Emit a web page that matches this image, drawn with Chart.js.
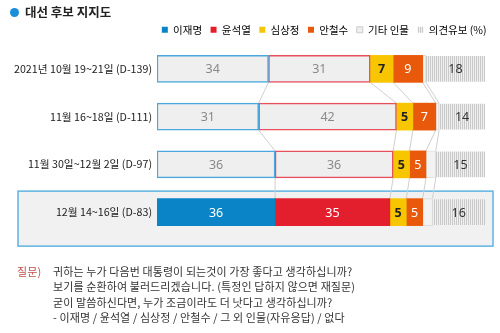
<!DOCTYPE html>
<html>
<head>
<meta charset="utf-8">
<script src="https://cdn.jsdelivr.net/npm/chart.js@4/dist/chart.umd.min.js"></script>
<style>
    body { margin: 0; background: #fff; font-family: "Noto Sans CJK KR", sans-serif; }
    #wrap { position: relative; width: 500px; height: 333px; }
    #chart { position: absolute; left: 0; top: 0; }
    #title { position: absolute; left: 10px; top: 2px; font-size: 12.5px; font-weight: bold; color: #222; }
    #title .dot { display: inline-block; width: 9px; height: 9px; border-radius: 50%; background: #1a8fd8; margin-right: 6px; vertical-align: 0px; }
    #question { position: absolute; left: 17px; top: 264px; font-size: 11px; line-height: 15.3px; color: #333; display: flex; letter-spacing: 0.1px; }
    #question .q { color: #c0504d; width: 36px; }
</style>
</head>
<body>
<div id="wrap">
    <canvas id="chart" width="500" height="333"></canvas>
    <div id="title"><span class="dot"></span>대선 후보 지지도</div>
    <div id="question">
        <div class="q">질문)</div>
        <div>
            귀하는 누가 다음번 대통령이 되는것이 가장 좋다고 생각하십니까?<br>
            보기를 순환하여 불러드리겠습니다. (특정인 답하지 않으면 재질문)<br>
            굳이 말씀하신다면, 누가 조금이라도 더 낫다고 생각하십니까?<br>
            - 이재명 / 윤석열 / 심상정 / 안철수 / 그 외 인물(자유응답) / 없다
        </div>
    </div>
</div>
<script>
const periods = [
    "2021년 10월 19~21일 (D-139)",
    "11월 16~18일 (D-111)",
    "11월 30일~12월 2일 (D-97)",
    "12월 14~16일 (D-83)"
];
const leeJaemyung = [34, 31, 36, 36];
const yoonSeokyeol = [31, 42, 36, 35];
const simSangjeung = [7, 5, 5, 5];
const ahnCheolsoo = [9, 7, 5, 5];
const others = [1, 1, 3, 3];
const undecided = [18, 14, 15, 16];

const BAR = 27;

// hatched fill for 의견유보
function hatch() {
    const c = document.createElement("canvas");
    c.width = 2; c.height = 2;
    const g = c.getContext("2d");
    g.fillStyle = "#f0f0f0"; g.fillRect(0, 0, 2, 2);
    g.fillStyle = "#c9c9c9"; g.fillRect(0, 0, 1, 2);
    return g.createPattern(c, "repeat");
}
const hatchFill = hatch();

const legendColors = ["#0a84c6", "#e31e2d", "#f7c600", "#e8590c", "#eeeeee", hatchFill];
const legendText = ["이재명", "윤석열", "심상정", "안철수", "기타 인물", "의견유보 (%)"];

// last row is highlighted, earlier rows are greyed out
const last = i => i === periods.length - 1;

// highlight box behind the latest row (drawn before the axis labels)
const highlight = {
    id: "highlight",
    beforeDraw(chart) {
        const { ctx, chartArea, scales: { y } } = chart;
        const yc = y.getPixelForValue(periods.length - 1);
        const w = chartArea.right + 8 - 18;
        ctx.save();
        ctx.fillStyle = "#f1f1f1";
        ctx.fillRect(18, yc - 21, w, 55);
        ctx.strokeStyle = "#5fb3e3";
        ctx.lineWidth = 1.5;
        ctx.strokeRect(18, yc - 21, w, 55);
        ctx.restore();
    },
    afterLayout(chart) {
        // push the legend a bit further right than the plot area
        chart.legend.left += 10;
        chart.legend.right += 10;
    }
};

// thin lines joining the same boundaries of neighbouring rows
const connectors = {
    id: "connectors",
    beforeDatasetsDraw(chart) {
        const { ctx, scales: { x, y } } = chart;
        const series = chart.data.datasets.map(d => d.data);
        ctx.save();
        ctx.strokeStyle = "#cfcfcf";
        ctx.lineWidth = 1;
        for (let r = 0; r < periods.length - 1; r++) {
            let a = 0, b = 0;
            for (let k = 0; k < series.length - 1; k++) {
                a += series[k][r];
                b += series[k][r + 1];
                ctx.beginPath();
                ctx.moveTo(x.getPixelForValue(a), y.getPixelForValue(r) + BAR / 2);
                ctx.lineTo(x.getPixelForValue(b), y.getPixelForValue(r + 1) - BAR / 2);
                ctx.stroke();
            }
        }
        ctx.restore();
    }
};

const valueLabels = {
    id: "valueLabels",
    afterDatasetsDraw(chart) {
        const ctx = chart.ctx;
        ctx.save();
        ctx.textAlign = "center";
        ctx.textBaseline = "middle";
        chart.data.datasets.forEach((ds, di) => {
            if (di === 4) return;
            chart.getDatasetMeta(di).data.forEach((bar, i) => {
                const c = bar.getCenterPoint();
                let color = "#fff";
                if (di < 2) color = last(i) ? "#fff" : "#8a8a8a";
                if (di === 2) color = "#222";
                if (di === 5) color = "#333";
                ctx.fillStyle = color;
                ctx.font = (di === 2 ? "bold " : "") + "12.5px 'Noto Sans', sans-serif";
                ctx.fillText(ds.data[i], c.x, c.y + 1);
            });
        });
        ctx.restore();
    }
};

new Chart(document.getElementById("chart"), {
    type: "bar",
    data: {
        labels: periods,
        datasets: [
            {
                label: "이재명",
                data: leeJaemyung,
                backgroundColor: periods.map((p, i) => last(i) ? "#0a84c6" : "#efefef"),
                borderColor: "#4aa8de",
                borderWidth: periods.map((p, i) => last(i) ? 0 : 1.5)
            },
            {
                label: "윤석열",
                data: yoonSeokyeol,
                backgroundColor: periods.map((p, i) => last(i) ? "#e31e2d" : "#efefef"),
                borderColor: "#e6505d",
                borderWidth: periods.map((p, i) => last(i) ? 0 : 1.5)
            },
            { label: "심상정", data: simSangjeung, backgroundColor: "#f7c600", borderWidth: 0 },
            { label: "안철수", data: ahnCheolsoo, backgroundColor: "#e8590c", borderWidth: 0 },
            { label: "기타 인물", data: others, backgroundColor: "#f2f2f2", borderColor: "#dcdcdc", borderWidth: 1 },
            { label: "의견유보", data: undecided, backgroundColor: hatchFill, borderWidth: 0, barThickness: 25 }
        ]
    },
    options: {
        indexAxis: "y",
        responsive: false,
        animation: false,
        barThickness: BAR,
        datasets: { bar: { borderSkipped: false } },
        layout: { padding: { top: 16, right: 15, bottom: 97, left: 0 } },
        scales: {
            x: { stacked: true, min: 0, max: 100, display: false },
            y: {
                stacked: true,
                grid: { display: false, drawTicks: false },
                border: { display: false },
                ticks: { color: "#222", padding: 5, font: { size: 10.7, family: "'Noto Sans CJK KR', sans-serif" } },
                afterFit(scale) { scale.width = 157; }
            }
        },
        plugins: {
            tooltip: { enabled: false },
            legend: {
                position: "top",
                align: "end",
                labels: {
                    boxWidth: 6,
                    boxHeight: 6,
                    padding: 8.5,
                    color: "#333",
                    font: { size: 10.5, family: "'Noto Sans CJK KR', sans-serif" },
                    generateLabels: () => legendText.map((t, i) => ({
                        text: t,
                        fillStyle: legendColors[i],
                        strokeStyle: i === 4 ? "#cccccc" : "rgba(0,0,0,0)",
                        lineWidth: i === 4 ? 1 : 0,
                        hidden: false,
                        datasetIndex: i
                    }))
                }
            }
        }
    },
    plugins: [highlight, connectors, valueLabels]
});
</script>
</body>
</html>
